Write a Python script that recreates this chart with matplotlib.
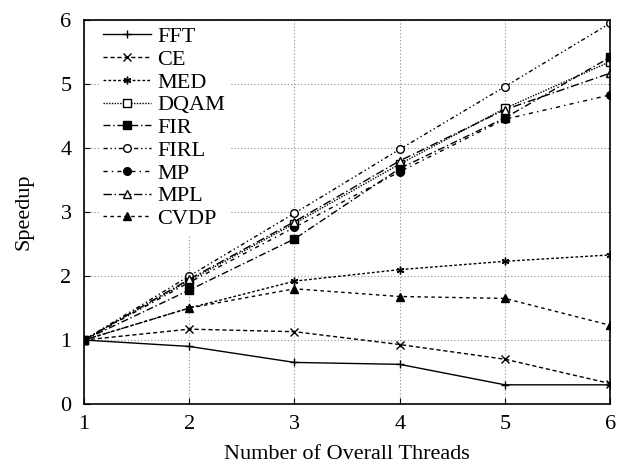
"""Speedup vs number of overall threads for the benchmark kernels."""

import matplotlib

matplotlib.use("Agg")

import matplotlib.pyplot as plt

threads = [1, 2, 3, 4, 5, 6]
fft = [1.0, 0.90, 0.65, 0.62, 0.30, 0.30]
ce = [1.0, 1.17, 1.13, 0.93, 0.70, 0.32]
med = [1.0, 1.50, 1.92, 2.10, 2.23, 2.33]
dqam = [1.0, 1.93, 2.82, 3.75, 4.62, 5.35]
fir = [1.0, 1.78, 2.58, 3.68, 4.47, 5.42]
firl = [1.0, 2.00, 2.98, 3.98, 4.96, 5.95]
mp = [1.0, 1.90, 2.76, 3.63, 4.45, 4.83]
mpl = [1.0, 1.95, 2.85, 3.80, 4.60, 5.17]
cvdp = [1.0, 1.50, 1.80, 1.68, 1.65, 1.23]

series = [
    ("FFT", fft, "-", "+", "black"),
    ("CE", ce, (0, (3, 2)), "x", "black"),
    ("MED", med, (0, (2, 1.5)), (6, 2, 0), "black"),
    ("DQAM", dqam, (0, (1, 1)), "s", "white"),
    ("FIR", fir, (0, (5, 2, 1, 2)), "s", "black"),
    ("FIRL", firl, (0, (3, 2, 1, 2, 1, 2)), "o", "white"),
    ("MP", mp, (0, (3, 3, 1, 3)), "o", "black"),
    ("MPL", mpl, (0, (6, 2, 1, 2)), "^", "white"),
    ("CVDP", cvdp, (0, (2.5, 2.5)), "^", "black"),
]


def main() -> None:
    plt.rcParams["font.family"] = ["Liberation Serif", "DejaVu Serif"]
    fig = plt.figure(figsize=(6.22, 4.66), dpi=100)
    ax = fig.add_axes([0.135, 0.133, 0.846, 0.824])

    for name, vals, ls, mk, fc in series:
        ax.plot(threads, vals, color="black", lw=1.0, linestyle=ls, marker=mk,
                markersize=5.5, markerfacecolor=fc, markeredgecolor="black",
                markeredgewidth=1.0, label=name)

    ax.set_xlim(1, 6)
    ax.set_ylim(0, 6)
    ax.set_xticks(threads)
    ax.set_yticks(range(0, 7))
    ax.tick_params(direction="in", labelsize=16, length=4)
    ax.tick_params(axis="x", pad=8)
    ax.tick_params(axis="y", pad=9)
    ax.grid(True, linestyle=(0, (1, 2)), color="0.55", lw=0.8)
    for s in ax.spines.values():
        s.set_linewidth(1.2)
    ax.set_xlabel("Number of Overall Threads", fontsize=16, labelpad=8)
    ax.set_ylabel("Speedup", fontsize=16, labelpad=19)
    leg = ax.legend(loc="upper left", bbox_to_anchor=(0.028, 0.995), fontsize=16,
                    frameon=True, handlelength=2.15, labelspacing=0.1,
                    borderaxespad=0.0, handletextpad=0.3, markerscale=1.0,
                    borderpad=0.2)
    leg.get_frame().set_facecolor("white")
    leg.get_frame().set_edgecolor("white")
    leg.get_frame().set_alpha(1.0)

    fig.savefig("out.png", dpi=100)


if __name__ == "__main__":
    main()
